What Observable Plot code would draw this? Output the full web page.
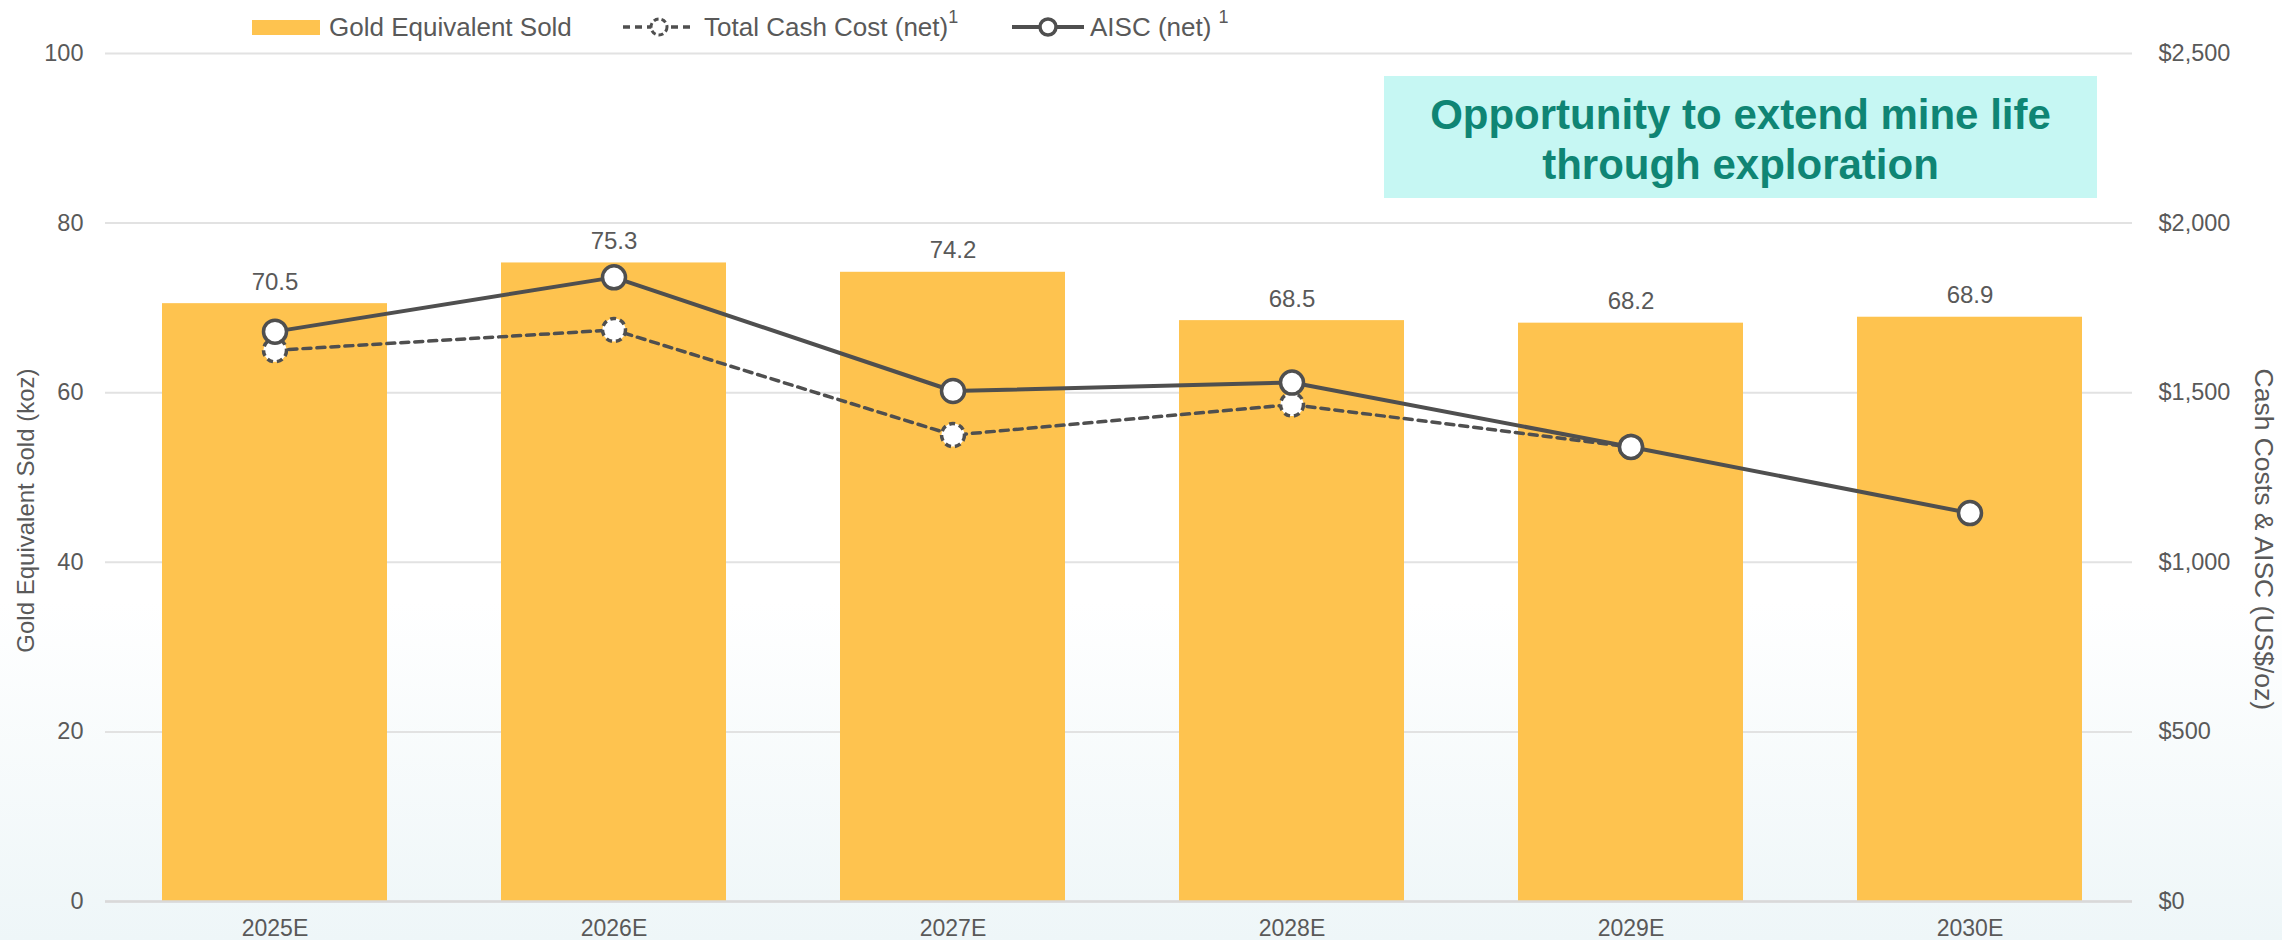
<!DOCTYPE html>
<html>
<head>
<meta charset="utf-8">
<script src="https://cdn.jsdelivr.net/npm/d3@7"></script>
<script src="https://cdn.jsdelivr.net/npm/@observablehq/plot@0.6"></script>
<style>
  html, body { margin: 0; padding: 0; }
  body {
    width: 2282px; height: 940px; overflow: hidden;
    background: linear-gradient(to bottom, #ffffff 0%, #ffffff 64%, #eef6f8 100%);
    font-family: "Liberation Sans", Arial, sans-serif;
  }
  #wrap { position: relative; width: 2282px; height: 940px; }
  .lg { position: absolute; top: 12px; height: 30px; line-height: 30px; font-size: 26px; color: #595959; white-space: nowrap; }
  .lg sup { font-size: 18px; position: relative; top: -5px; vertical-align: top; line-height: 20px; }
  #note {
    position: absolute; left: 1384px; top: 76px; width: 713px; height: 122px; box-sizing: border-box; padding-top: 6px;
    background: #c6f7f3; color: #0f8574; font-weight: bold; font-size: 42px;
    line-height: 50px; text-align: center; display: flex; align-items: center; justify-content: center;
  }
</style>
</head>
<body>
<div id="wrap">
  <div id="chart"></div>
  <div class="lg" style="left:252px;top:20px;width:68px;height:15px;background:#fec34f"></div>
  <div class="lg" style="left:329px">Gold Equivalent Sold</div>
  <svg class="lg" style="left:621px;top:12px" width="76" height="30">
    <line x1="2" y1="15" x2="74" y2="15" stroke="#4f4f4f" stroke-width="3.5" stroke-dasharray="7,5"/>
    <circle cx="38" cy="15" r="8" fill="#fff" stroke="#4f4f4f" stroke-width="3" stroke-dasharray="5,3"/>
  </svg>
  <div class="lg" style="left:704px">Total Cash Cost (net)<sup>1</sup></div>
  <svg class="lg" style="left:1010px;top:12px" width="76" height="30">
    <line x1="2" y1="15" x2="74" y2="15" stroke="#4f4f4f" stroke-width="4"/>
    <circle cx="38" cy="15" r="8" fill="#fff" stroke="#4f4f4f" stroke-width="3.5"/>
  </svg>
  <div class="lg" style="left:1090px">AISC (net) <sup>1</sup></div>
  <div id="note">Opportunity to extend mine life<br>through exploration</div>
</div>
<script>
// ---- data ----
const categories = ["2025E", "2026E", "2027E", "2028E", "2029E", "2030E"];
const goldSold = [70.5, 75.3, 74.2, 68.5, 68.2, 68.9];
const totalCashCost = [1625, 1685, 1375, 1465, 1340, null];
const aisc = [1680, 1840, 1505, 1530, 1340, 1145];
const leftTicks = [0, 20, 40, 60, 80, 100];
const rightTicks = [0, 500, 1000, 1500, 2000, 2500];
const leftLabel = "Gold Equivalent Sold (koz)";
const rightLabel = "Cash Costs & AISC (US$/oz)";

const ratio = 2500 / 100; // right axis $ per left unit

const bars = categories.map((c, i) => ({cat: c, v: goldSold[i]}));
const cash = categories.map((c, i) => ({cat: c, v: totalCashCost[i] == null ? NaN : totalCashCost[i] / ratio}));
const allin = categories.map((c, i) => ({cat: c, v: aisc[i] / ratio}));

const barColor = "#fec34f";
const lineColor = "#4f4f4f";
const textColor = "#595959";
const fmt = d3.format(",");

const chart = Plot.plot({
  width: 2282,
  height: 940,
  marginLeft: 105,
  marginRight: 150,
  marginTop: 53,
  marginBottom: 39,
  style: {background: "transparent", fontFamily: "'Liberation Sans', Arial, sans-serif", color: textColor, overflow: "visible"},
  x: {domain: categories, paddingInner: 0.3365, paddingOuter: 0.157, range: [108, 2135]},
  y: {domain: [0, 100]},
  marks: [
    Plot.ruleY(leftTicks, {stroke: "#e2e2e2", strokeWidth: 2}),
    Plot.barY(bars, {x: "cat", y: "v", fill: barColor}),
    Plot.ruleY([0], {stroke: "#d9d9d9", strokeWidth: 2.5}),
    Plot.text(bars, {x: "cat", y: "v", text: d => d.v.toFixed(1), lineAnchor: "bottom", dy: -14, fontSize: 24, fill: textColor}),
    Plot.line(cash, {x: "cat", y: "v", stroke: lineColor, strokeWidth: 3.5, strokeDasharray: "8,6"}),
    Plot.line(allin, {x: "cat", y: "v", stroke: lineColor, strokeWidth: 4}),
    Plot.dot(cash, {x: "cat", y: "v", r: 11.5, fill: "white", stroke: lineColor, strokeWidth: 3.5, strokeDasharray: "6,4"}),
    Plot.dot(allin, {x: "cat", y: "v", r: 11.5, fill: "white", stroke: lineColor, strokeWidth: 3.5}),
    Plot.axisY({anchor: "left", ticks: leftTicks, tickSize: 0, tickPadding: 22, fontSize: 23.5, label: null, color: textColor}),
    Plot.axisY({anchor: "right", ticks: rightTicks.map(v => v / ratio), tickFormat: d => "$" + fmt(Math.round(d * ratio)), tickSize: 0, tickPadding: 26, fontSize: 23.5, label: null, color: textColor}),
    Plot.axisX({tickSize: 0, tickPadding: 18, fontSize: 23, label: null, color: textColor}),
    Plot.text([leftLabel], {frameAnchor: "top-left", text: d => d, rotate: -90, textAnchor: "end", lineAnchor: "middle", dx: -79, dy: 315, fontSize: 24, fill: textColor}),
    Plot.text([rightLabel], {frameAnchor: "top-right", text: d => d, rotate: 90, textAnchor: "start", lineAnchor: "middle", dx: 131, dy: 315, fontSize: 26.5, fill: textColor})
  ]
});
document.getElementById("chart").appendChild(chart);
</script>
</body>
</html>
